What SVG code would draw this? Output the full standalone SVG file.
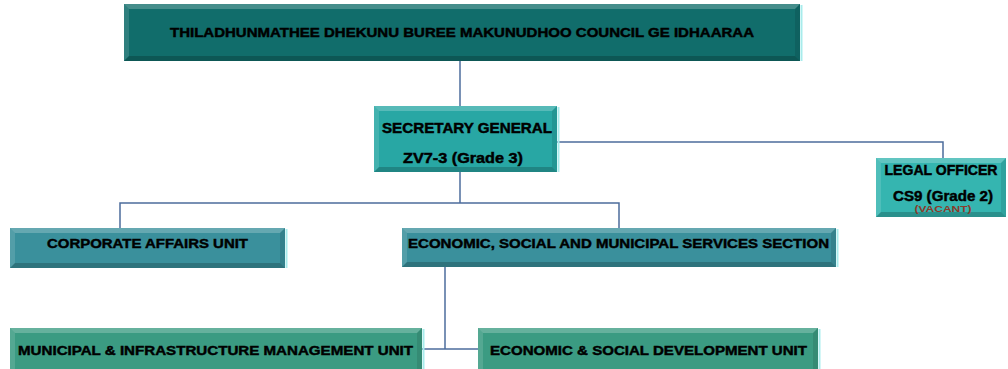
<svg xmlns="http://www.w3.org/2000/svg" width="1008" height="369" viewBox="0 0 1008 369">
<style>
.t{font-family:"Liberation Sans",Arial,sans-serif;font-weight:bold;fill:#000;stroke:#000;stroke-width:0.45;text-anchor:middle}
.hl{fill:#fff;opacity:.22}
.hl2{fill:#fff;opacity:.13}
.sh{fill:#000;opacity:.2}
.sh2{fill:#000;opacity:.1}
.edge{stroke:#a8ecec;stroke-width:2}
.c{fill:none;stroke:#4c6c9c;stroke-width:1.5}
</style>
<rect width="1008" height="369" fill="#fff"/>
<g id="connectors">
<path class="c" d="M460 61V106"/>
<path class="c" d="M460 172V203"/>
<path class="c" d="M120 228V203H619V228"/>
<path class="c" d="M557 142H943V158"/>
<path class="c" d="M445 267V349"/>
<path class="c" d="M422 349H478"/>
</g>
<g id="council">
<rect x="124" y="4" width="676" height="57" fill="#116d6b"/>
<polygon class="hl" points="124,4 800,4 795,9 129,9"/>
<polygon class="hl2" points="124,4 129,9 129,56 124,61"/>
<polygon class="sh" points="124,61 129,56 795,56 800,61"/>
<polygon class="sh2" points="800,4 800,61 795,56 795,9"/>
<line class="edge" x1="801.5" y1="5" x2="801.5" y2="61"/>
<text class="t" x="462" y="36.5" font-size="13" textLength="584" lengthAdjust="spacingAndGlyphs">THILADHUNMATHEE DHEKUNU BUREE MAKUNUDHOO COUNCIL GE IDHAARAA</text>
</g>
<g id="secretary-general">
<rect x="374" y="106" width="183" height="66" fill="#28a7a4"/>
<polygon class="hl" points="374,106 557,106 552,111 379,111"/>
<polygon class="hl2" points="374,106 379,111 379,167 374,172"/>
<polygon class="sh" points="374,172 379,167 552,167 557,172"/>
<polygon class="sh2" points="557,106 557,172 552,167 552,111"/>
<line class="edge" x1="558.5" y1="107" x2="558.5" y2="172"/>
<text class="t" x="467" y="132.5" font-size="14" textLength="170" lengthAdjust="spacingAndGlyphs">SECRETARY GENERAL</text>
<text class="t" x="463" y="163" font-size="14" textLength="120" lengthAdjust="spacingAndGlyphs">ZV7-3 (Grade 3)</text>
</g>
<g id="legal-officer">
<rect x="876" y="158" width="130" height="59" fill="#35b5b0"/>
<polygon class="hl" points="876,158 1006,158 1001,163 881,163"/>
<polygon class="hl2" points="876,158 881,163 881,212 876,217"/>
<polygon class="sh" points="876,217 881,212 1001,212 1006,217"/>
<polygon class="sh2" points="1006,158 1006,217 1001,212 1001,163"/>
<text class="t" x="941" y="174.5" font-size="14" textLength="113" lengthAdjust="spacingAndGlyphs">LEGAL OFFICER</text>
<text class="t" x="943" y="201" font-size="14" textLength="100" lengthAdjust="spacingAndGlyphs">CS9 (Grade 2)</text>
<text class="t" x="943" y="211.5" font-size="8.5" style="fill:#8b3a2a;stroke:none" textLength="57" lengthAdjust="spacingAndGlyphs">(VACANT)</text>
</g>
<g id="corporate-affairs">
<rect x="10" y="228" width="275" height="40" fill="#3a909c"/>
<polygon class="hl" points="10,228 285,228 280,233 15,233"/>
<polygon class="hl2" points="10,228 15,233 15,263 10,268"/>
<polygon class="sh" points="10,268 15,263 280,263 285,268"/>
<polygon class="sh2" points="285,228 285,268 280,263 280,233"/>
<line class="edge" x1="286.5" y1="229" x2="286.5" y2="268"/>
<text class="t" x="147.5" y="247.5" font-size="13.5" textLength="201" lengthAdjust="spacingAndGlyphs">CORPORATE AFFAIRS UNIT</text>
</g>
<g id="esms-section">
<rect x="402" y="228" width="434" height="39" fill="#3a909c"/>
<polygon class="hl" points="402,228 836,228 831,233 407,233"/>
<polygon class="hl2" points="402,228 407,233 407,262 402,267"/>
<polygon class="sh" points="402,267 407,262 831,262 836,267"/>
<polygon class="sh2" points="836,228 836,267 831,262 831,233"/>
<line class="edge" x1="837.5" y1="229" x2="837.5" y2="267"/>
<text class="t" x="618.5" y="247.5" font-size="13.5" textLength="421" lengthAdjust="spacingAndGlyphs">ECONOMIC, SOCIAL AND MUNICIPAL SERVICES SECTION</text>
</g>
<g id="municipal-unit">
<rect x="10" y="328" width="412" height="41" fill="#3b9b82"/>
<polygon class="hl" points="10,328 422,328 417,333 15,333"/>
<polygon class="hl2" points="10,328 15,333 15,369 10,369"/>
<polygon class="sh2" points="422,328 422,369 417,369 417,333"/>
<line class="edge" x1="423.5" y1="329" x2="423.5" y2="369"/>
<text class="t" x="215.5" y="354.5" font-size="13" textLength="395" lengthAdjust="spacingAndGlyphs">MUNICIPAL &amp; INFRASTRUCTURE MANAGEMENT UNIT</text>
</g>
<g id="esd-unit">
<rect x="478" y="328" width="340" height="41" fill="#3b9b82"/>
<polygon class="hl" points="478,328 818,328 813,333 483,333"/>
<polygon class="hl2" points="478,328 483,333 483,369 478,369"/>
<polygon class="sh2" points="818,328 818,369 813,369 813,333"/>
<line class="edge" x1="819.5" y1="329" x2="819.5" y2="369"/>
<text class="t" x="648.5" y="354.5" font-size="13" textLength="317" lengthAdjust="spacingAndGlyphs">ECONOMIC &amp; SOCIAL DEVELOPMENT UNIT</text>
</g>
</svg>
